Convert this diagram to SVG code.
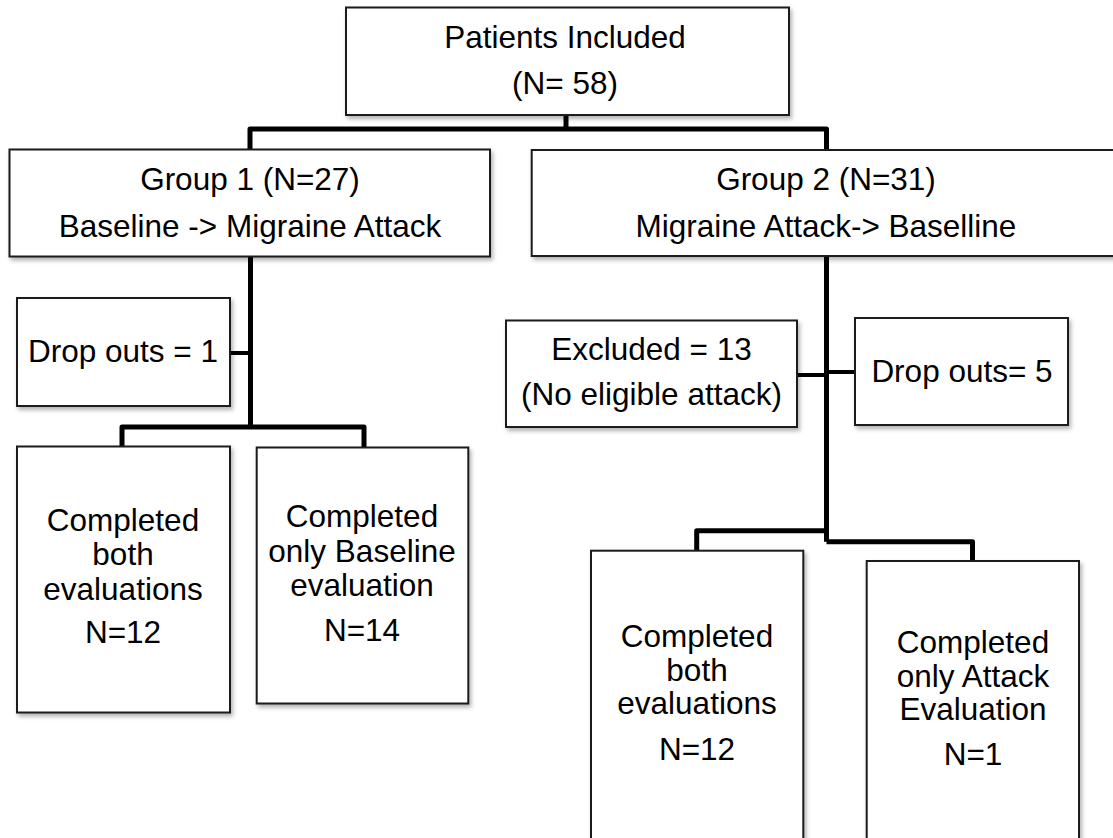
<svg xmlns="http://www.w3.org/2000/svg" width="1113" height="838" viewBox="0 0 1113 838">
<defs>
<filter id="sh" x="-10%" y="-10%" width="130%" height="130%">
<feDropShadow dx="2" dy="3" stdDeviation="2" flood-color="#000" flood-opacity="0.3"/>
</filter>
<style>
.box{fill:#fff;stroke:#1a1a1a;stroke-width:2;filter:url(#sh)}
.t{font-family:"Liberation Sans",Arial,Helvetica,sans-serif;font-size:31.5px;fill:#000;text-anchor:middle}
.c{fill:none;stroke:#000;stroke-width:5;stroke-linejoin:round}
.cs{fill:none;stroke:#000;stroke-width:4}
</style>
</defs>
<rect width="1113" height="838" fill="#fff"/>
<g id="connectors">
<path class="c" d="M566 115 V129 M250 149 V129 H826.5 V150"/>
<path class="c" d="M250.5 256 V427 M122 446 V427 H364 V447"/>
<path class="cs" d="M230 353 H250"/>
<path class="c" d="M826.5 256 V541.7 M696.7 551 V530.7 H826.5 M826.5 541.7 H972.5 V561"/>
<path class="cs" d="M797 375 H826 M826 372 H855"/>
</g>
<g id="n_patients">
<rect class="box" x="346" y="7.5" width="443" height="107.5"/>
<text class="t" x="565" y="48">Patients Included</text>
<text class="t" x="565" y="94">(N= 58)</text>
</g>
<g id="n_group1">
<rect class="box" x="9.5" y="149.5" width="480.5" height="107"/>
<text class="t" x="250" y="190">Group 1 (N=27)</text>
<text class="t" x="250" y="236.5">Baseline -&gt; Migraine Attack</text>
</g>
<g id="n_group2">
<rect class="box" x="531.7" y="150" width="585" height="106"/>
<text class="t" x="826" y="190">Group 2 (N=31)</text>
<text class="t" x="826" y="236.5">Migraine Attack-&gt; Baselline</text>
</g>
<g id="n_dropout1">
<rect class="box" x="17" y="298" width="213" height="108"/>
<text class="t" x="123" y="362">Drop outs = 1</text>
</g>
<g id="n_g1_both">
<rect class="box" x="17" y="446.5" width="213" height="266"/>
<text class="t" x="123" y="531">Completed</text>
<text class="t" x="123" y="565">both</text>
<text class="t" x="123" y="600">evaluations</text>
<text class="t" x="123" y="643">N=12</text>
</g>
<g id="n_g1_baseline">
<rect class="box" x="256.7" y="447.5" width="211.6" height="256"/>
<text class="t" x="362" y="527">Completed</text>
<text class="t" x="362" y="561.5">only Baseline</text>
<text class="t" x="362" y="595.5">evaluation</text>
<text class="t" x="362" y="640.5">N=14</text>
</g>
<g id="n_excluded">
<rect class="box" x="506" y="320.5" width="291" height="106.5"/>
<text class="t" x="651.5" y="360">Excluded = 13</text>
<text class="t" x="651.5" y="405">(No eligible attack)</text>
</g>
<g id="n_dropout5">
<rect class="box" x="855" y="318" width="213" height="107"/>
<text class="t" x="962" y="381.5">Drop outs= 5</text>
</g>
<g id="n_g2_both">
<rect class="box" x="591" y="550.7" width="212.3" height="300"/>
<text class="t" x="697" y="647">Completed</text>
<text class="t" x="697" y="681">both</text>
<text class="t" x="697" y="714">evaluations</text>
<text class="t" x="697" y="760">N=12</text>
</g>
<g id="n_g2_attack">
<rect class="box" x="866.7" y="561" width="212.3" height="300"/>
<text class="t" x="973" y="652.5">Completed</text>
<text class="t" x="973" y="686.7">only Attack</text>
<text class="t" x="973" y="720">Evaluation</text>
<text class="t" x="973" y="765">N=1</text>
</g>
</svg>
